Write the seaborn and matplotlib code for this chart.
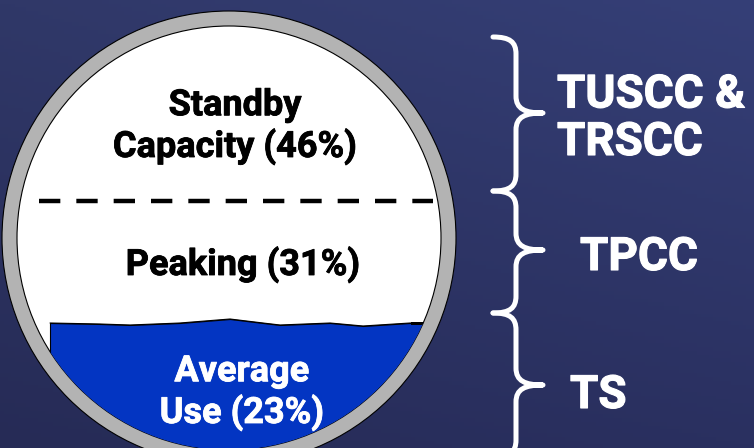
import numpy as np
import pandas as pd
import seaborn as sns
import matplotlib.pyplot as plt
import matplotlib.patheffects as pe
from matplotlib.patches import Circle, PathPatch
from matplotlib.path import Path

# Capacity segments shown inside the "tank", top to bottom
segments = ["Standby\nCapacity", "Peaking", "Average\nUse"]
shares = [46, 31, 23]
# Tariff components on the right, one per segment
tariffs = ["TUSCC &\nTRSCC", "TPCC", "TS"]
# Surface of the water (average use)
wave_x = [50, 100, 130, 180, 230, 263, 280, 330, 363, 410, 430]
wave_y = [323, 324, 325, 323, 319, 323, 325, 323, 326, 323, 323]

sns.set_theme(style="white")
plt.rcParams['font.family'] = ['Roboto', 'DejaVu Sans']

fig = plt.figure(figsize=(7.54, 4.48), dpi=100)
ax = fig.add_axes([0, 0, 1, 1])
ax.set_xlim(0, 754)
ax.set_ylim(448, 0)
ax.axis('off')

# Background: navy gradient, lighter in the top right
tl, tr = np.array([48, 56, 104]), np.array([53, 63, 119])
bl, br = np.array([38, 43, 86]), np.array([42, 48, 96])
u = np.linspace(0, 1, 200)[None, :, None]
v = np.linspace(0, 1, 120)[:, None, None]
bg = ((1 - v) * ((1 - u) * tl + u * tr) + v * ((1 - u) * bl + u * br)) / 255
ax.imshow(bg, extent=[0, 754, 448, 0], aspect='auto', zorder=0)

# The tank: grey rim and white inside
cx, cy = 229, 238
ax.add_patch(Circle((cx, cy), 227, fc='#b3b3b3', ec='black', lw=0.8, zorder=1))
inner = Circle((cx, cy), 212, fc='white', ec='black', lw=0.8, zorder=2)
ax.add_patch(inner)

# Water for average use, clipped to the inside of the tank
water = ax.fill_between(wave_x, wave_y, 470, color='#0335c2', edgecolor='black',
                        linewidth=0.8, zorder=3)
water.set_clip_path(inner)
wave = pd.DataFrame({'x': wave_x, 'y': wave_y})
sns.lineplot(data=wave, x='x', y='y', ax=ax, color='black', lw=0.8, zorder=4)
ax.lines[-1].set_clip_path(inner)
ax.set_xlim(0, 754)
ax.set_ylim(448, 0)
ax.axis('off')

# Dashed divider between standby and peaking
ax.plot([39, 433], [201, 201], color='black', lw=3.2, linestyle=(0, (4.8, 3.6)),
        solid_capstyle='butt', zorder=4)

# Segment labels (a thin stroke of the same colour makes the font look bolder)
label_pos = [(235, 157), (243, 275), (242, 423)]
label_col = ['black', 'black', 'white']
for name, share, (x, y), c in zip(segments, shares, label_pos, label_col):
    ax.text(x, y, f"{name} ({share}%)", ha='center', va='baseline', fontsize=26,
            fontweight='bold', color=c, linespacing=1.15, zorder=6,
            path_effects=[pe.withStroke(linewidth=0.6, foreground=c)])


# Curly braces
def brace(y0, y1, ym, x_end=493, x_stem=516, x_tip=543, r=17):
    verts = [(x_end, y0),
             (x_stem - 6, y0), (x_stem, y0 + 5), (x_stem, y0 + r),
             (x_stem, ym - r),
             (x_stem, ym - 4), (x_tip - 18, ym), (x_tip, ym),
             (x_tip - 18, ym), (x_stem, ym + 4), (x_stem, ym + r),
             (x_stem, y1 - r),
             (x_stem, y1 - 5), (x_stem - 6, y1), (x_end, y1)]
    codes = [Path.MOVETO] + [Path.CURVE4] * 3 + [Path.LINETO] + [Path.CURVE4] * 6 \
        + [Path.LINETO] + [Path.CURVE4] * 3
    ax.add_patch(PathPatch(Path(verts, codes), fc='none', ec='white', lw=3.6,
                           capstyle='round', joinstyle='round', zorder=5))


brace(37, 191, 113)
brace(191, 313, 250)
brace(313, 457, 385)

tariff_pos = [(557, 155), (580, 270), (570, 408)]
for name, (x, y) in zip(tariffs, tariff_pos):
    ax.text(x, y, name, ha='left', va='baseline', fontsize=33, fontweight='bold',
            color='white', linespacing=1.1, zorder=6,
            path_effects=[pe.withStroke(linewidth=0.8, foreground='white')])

fig.savefig('out.png', dpi=100)
